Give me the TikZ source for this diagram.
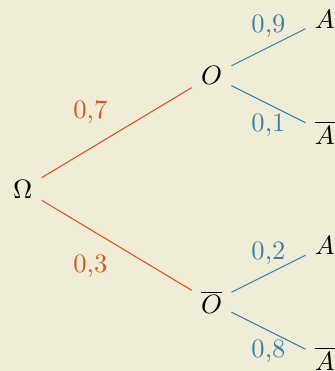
\documentclass[tikz,border=0pt]{standalone}
\usepackage{xcolor}
\usepackage{tikz}
\definecolor{treebg}{HTML}{F0EDD6}
\definecolor{treeorange}{HTML}{E0541E}
\definecolor{treeblue}{HTML}{3B7FAE}

\begin{document}
\begin{tikzpicture}[
  evt/.style={inner sep=3.33pt},
  lvlone/.style={draw=treeorange},
  lvltwo/.style={draw=treeblue},
  pone/.style={text=treeorange},
  ptwo/.style={text=treeblue}
]
\useasboundingbox[fill=treebg] (-0.302,-2.411) rectangle (4.135,2.503);
\node[evt] (om) at (0,0) {$\Omega$};
\node[evt] (o) at (2.5,1.5) {$O$};
\node[evt] (ob) at (2.5,-1.5) {$\overline{O}$};
\node[evt] (oa) at (4,2.25) {$A$};
\node[evt] (oab) at (4,0.75) {$\overline{A}$};
\node[evt] (oba) at (4,-0.75) {$A$};
\node[evt] (obab) at (4,-2.25) {$\overline{A}$};

\draw[lvlone] (om) -- node[pone,above left]{0,7} (o);
\draw[lvlone] (om) -- node[pone,below left]{0,3} (ob);
\draw[lvltwo] (o) -- node[ptwo,above]{0,9} (oa);
\draw[lvltwo] (o) -- node[ptwo,below]{0,1} (oab);
\draw[lvltwo] (ob) -- node[ptwo,above]{0,2} (oba);
\draw[lvltwo] (ob) -- node[ptwo,below]{0,8} (obab);
\end{tikzpicture}
\end{document}
